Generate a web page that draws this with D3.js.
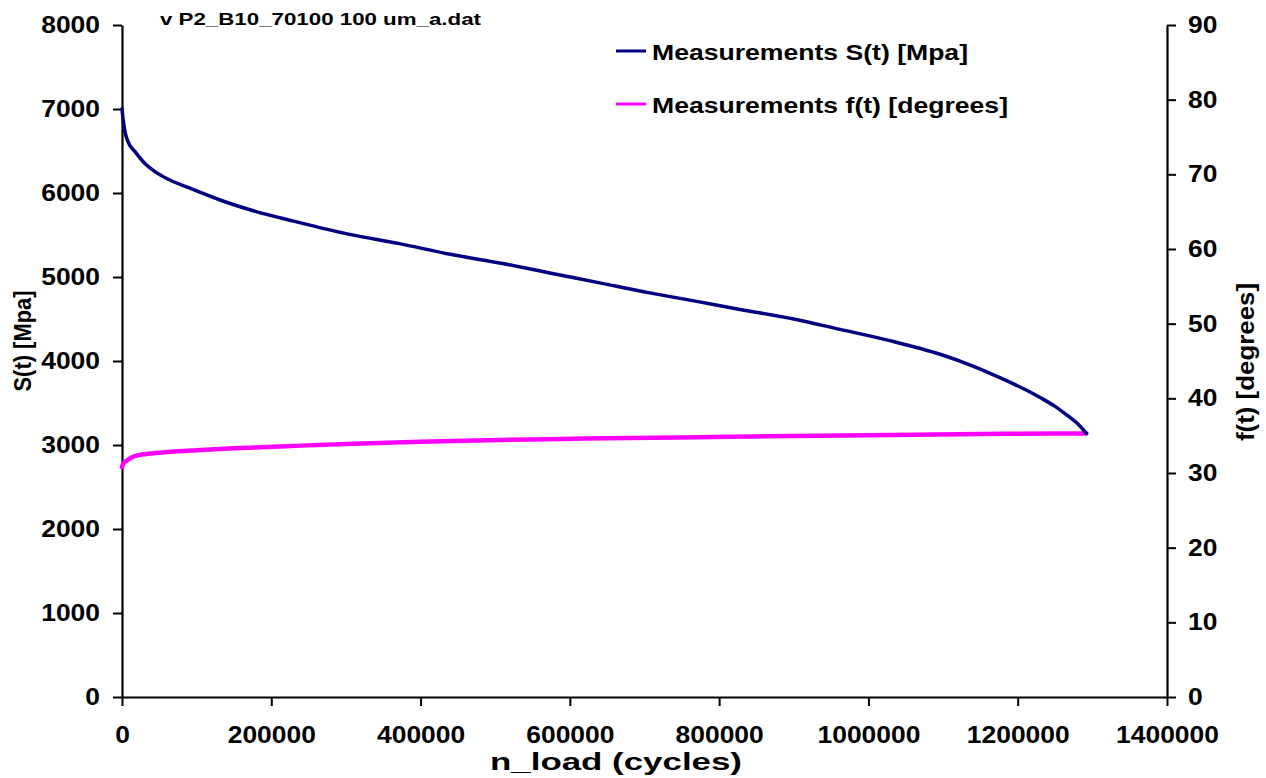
<!DOCTYPE html>
<html>
<head>
<meta charset="utf-8">
<script src="https://cdn.jsdelivr.net/npm/d3@7/dist/d3.min.js"></script>
<style>
  html, body { margin: 0; padding: 0; background: #fff; }
  svg { display: block; font-family: "Liberation Sans", Arial, sans-serif; font-weight: bold; }
</style>
</head>
<body>
<svg id="chart" width="1266" height="778"></svg>
<script>
// ---- data ----
const chartTitle = "v P2_B10_70100 100 um_a.dat";
const xTicks = [0, 200000, 400000, 600000, 800000, 1000000, 1200000, 1400000];
const leftTicks = [0, 1000, 2000, 3000, 4000, 5000, 6000, 7000, 8000];
const rightTicks = [0, 10, 20, 30, 40, 50, 60, 70, 80, 90];

const sCycles = [0, 1300, 4000, 8000, 17400, 30800, 44200, 60000, 91000, 135000, 171500, 230000, 305000, 370000, 440000, 510000, 573000, 640000, 707000, 770000, 828000, 900000, 962000, 1030000, 1096000, 1140000, 1176000, 1210000, 1230000, 1250000, 1266000, 1280000, 1292000];
const sValues = [7000, 6890, 6730, 6611, 6493, 6350, 6255, 6172, 6057, 5905, 5800, 5665, 5507, 5400, 5270, 5160, 5048, 4930, 4811, 4710, 4614, 4500, 4376, 4240, 4080, 3940, 3802, 3660, 3565, 3460, 3355, 3255, 3137];

const fCycles = [0, 2000, 6300, 15000, 37500, 60000, 100000, 149000, 211700, 300000, 399000, 490000, 587000, 680000, 774000, 850000, 935000, 1030000, 1122000, 1200000, 1292000];
const fValues = [30.8, 31.3, 31.65, 32.2, 32.6, 32.8, 33.05, 33.3, 33.55, 33.9, 34.19, 34.4, 34.55, 34.7, 34.8, 34.9, 35.0, 35.1, 35.2, 35.25, 35.3];

const seriesNames = ["Measurements S(t) [Mpa]", "Measurements f(t) [degrees]"];
const seriesColors = ["#000080", "#FF00FF"];
const xTitle = "n_load (cycles)";
const leftTitle = "S(t) [Mpa]";
const rightTitle = "f(t) [degrees]";

// ---- layout ----
const svg = d3.select("#chart");
const L = 122, R = 1167, T = 25, B = 697;
const x = d3.scaleLinear().domain([0, 1400000]).range([L, R]);
const yL = d3.scaleLinear().domain([0, 8000]).range([B, T]);
const yR = d3.scaleLinear().domain([0, 90]).range([B, T]);

const DIGIT_W = 14.7;
function styleTicks(g) {
  g.selectAll("path.domain").attr("stroke", "#000").attr("stroke-width", 2.2);
  g.selectAll(".tick line").attr("stroke", "#000").attr("stroke-width", 2);
  g.selectAll(".tick text")
    .attr("fill", "#000")
    .style("font-size", "23px")
    .style("font-weight", "bold")
    .style("font-family", "'Liberation Sans', Arial, sans-serif")
    .each(function() {
      const t = d3.select(this);
      t.attr("textLength", t.text().length * DIGIT_W).attr("lengthAdjust", "spacingAndGlyphs");
    });
}

svg.append("g").attr("transform", `translate(${L},0)`)
  .call(d3.axisLeft(yL).tickValues(leftTicks).tickFormat(d3.format("d")).tickSize(9).tickSizeOuter(0).tickPadding(13))
  .call(styleTicks);

svg.append("g").attr("transform", `translate(${R},0)`)
  .call(d3.axisRight(yR).tickValues(rightTicks).tickFormat(d3.format("d")).tickSize(9).tickSizeOuter(0).tickPadding(12))
  .call(styleTicks);

svg.append("g").attr("transform", `translate(0,${B})`)
  .call(d3.axisBottom(x).tickValues(xTicks).tickFormat(d3.format("d")).tickSize(9).tickSizeOuter(0).tickPadding(21))
  .call(styleTicks);

// ---- series ----
const sData = sCycles.map((c, i) => [c, sValues[i]]);
const fData = fCycles.map((c, i) => [c, fValues[i]]);

svg.append("path")
  .datum(fData)
  .attr("fill", "none")
  .attr("stroke", seriesColors[1])
  .attr("stroke-width", 4.5)
  .attr("stroke-linejoin", "round")
  .attr("stroke-linecap", "round")
  .attr("d", d3.line().x(d => x(d[0])).y(d => yR(d[1])).curve(d3.curveMonotoneX));

svg.append("path")
  .datum(sData)
  .attr("fill", "none")
  .attr("stroke", seriesColors[0])
  .attr("stroke-width", 3.5)
  .attr("stroke-linejoin", "round")
  .attr("stroke-linecap", "round")
  .attr("d", d3.line().x(d => x(d[0])).y(d => yL(d[1])).curve(d3.curveMonotoneX));

// ---- title ----
svg.append("text")
  .attr("x", 160).attr("y", 25)
  .style("font-size", "17px")
  .attr("textLength", 321).attr("lengthAdjust", "spacingAndGlyphs")
  .text(chartTitle);

// ---- legend ----
const legendY = [51, 104];
const legendBase = [60, 113];
const legendW = [316, 356];
seriesNames.forEach((name, i) => {
  svg.append("line")
    .attr("x1", 616).attr("x2", 646)
    .attr("y1", legendY[i]).attr("y2", legendY[i])
    .attr("stroke", seriesColors[i]).attr("stroke-width", 3);
  svg.append("text")
    .attr("x", 652).attr("y", legendBase[i])
    .style("font-size", "22px")
    .attr("textLength", legendW[i]).attr("lengthAdjust", "spacingAndGlyphs")
    .text(name);
});

// ---- axis titles ----
svg.append("text")
  .attr("x", 616).attr("y", 770)
  .attr("text-anchor", "middle")
  .style("font-size", "23px")
  .attr("textLength", 252).attr("lengthAdjust", "spacingAndGlyphs")
  .text(xTitle);

svg.append("text")
  .attr("transform", "translate(31,341) rotate(-90)")
  .attr("text-anchor", "middle")
  .style("font-size", "23px")
  .attr("textLength", 101).attr("lengthAdjust", "spacingAndGlyphs")
  .text(leftTitle);

svg.append("text")
  .attr("transform", "translate(1254,362) rotate(-90)")
  .attr("text-anchor", "middle")
  .style("font-size", "23px")
  .attr("textLength", 158).attr("lengthAdjust", "spacingAndGlyphs")
  .text(rightTitle);
</script>
</body>
</html>
